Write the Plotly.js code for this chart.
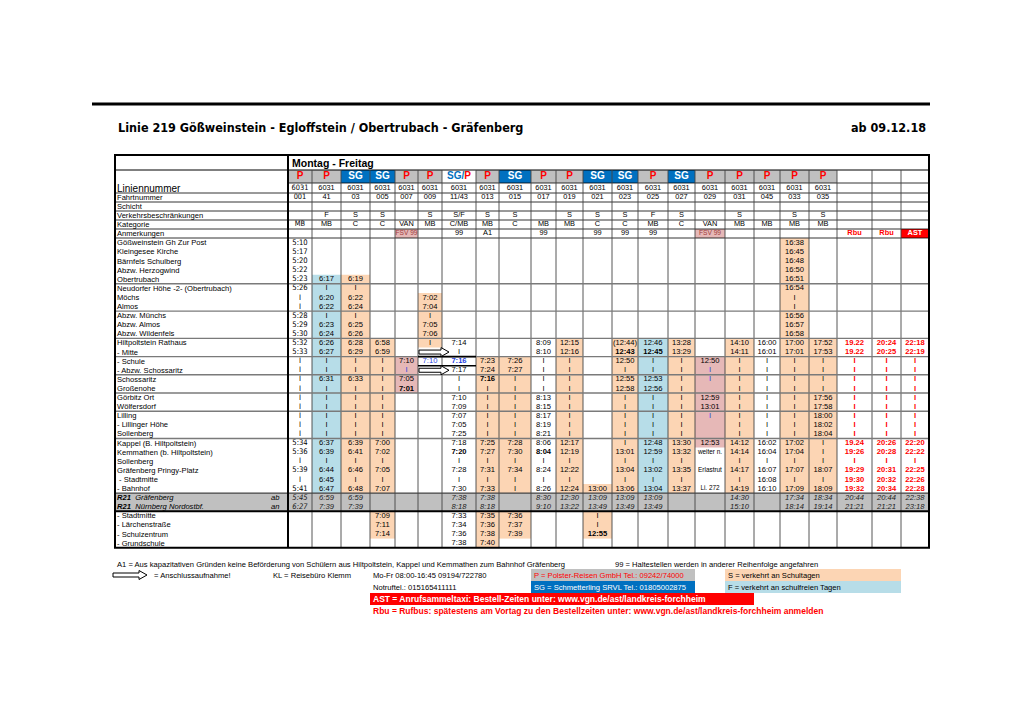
<!DOCTYPE html>
<html><head><meta charset="utf-8">
<script src="https://cdn.plot.ly/plotly-3.0.1.min.js"></script>
<style>html,body{margin:0;padding:0;background:#fff}</style>
</head><body><div id="chart" style="width:1020px;height:721px"></div>
<script>
// ================= DATA =================
const titleText = 'Linie 219 Gößweinstein - Egloffstein / Obertrubach - Gräfenberg';
const validFrom = 'ab 09.12.18';
const dayType = 'Montag - Freitag';
const rowLabels = ['Liniennummer','Fahrtnummer','Schicht','Verkehrsbeschränkungen','Kategorie','Anmerkungen'];
const stops = ['Gößweinstein Gh Zur Post','Kleingesee Kirche','Bärnfels Schulberg','Abzw. Herzogwind','Obertrubach',
 'Neudorfer Höhe -2- (Obertrubach)','Möchs','Almos','Abzw. Münchs','Abzw. Almos','Abzw. Wildenfels',
 'Hiltpoltstein Rathaus','- Mitte','- Schule','- Abzw. Schossaritz','Schossaritz','Großenohe','Görbitz Ort',
 'Wölfersdorf','Lilling','- Lillinger Höhe','Sollenberg','Kappel (B. Hiltpoltstein)','Kemmathen (b. Hiltpoltstein)',
 'Sollenberg','Gräfenberg Pringy-Platz','\u00a0- Stadtmitte','- Bahnhof','R21|Gräfenberg|ab','R21|Nürnberg Nordostbf.|an',
 '- Stadtmitte','- Lärchenstraße','- Schulzentrum','- Grundschule'];
const operators = ['P','P','SG','SG','P','P','SG/P','P','SG','P','P','SG','SG','P','SG','P','P','P','P','P','','',''];
const linien = ['6031','6031','6031','6031','6031','6031','6031','6031','6031','6031','6031','6031','6031','6031','6031','6031','6031','6031','6031','6031','','',''];
const fahrten = ['001','41','03','005','007','009','11/43','013','015','017','019','021','023','025','027','029','031','045','033','035','','',''];
const verkehr = ['','F','S','S','','S','S/F','S','S','','S','S','S','F','S','','S','','S','S','','',''];
const kategorie = ['MB','MB','C','C','VAN','MB','C/MB','MB','C','MB','MB','C','C','MB','C','VAN','MB','MB','MB','MB','','',''];
const anmerkungen = ['','','','','FSV 99','','99','A1','','99','','99','99','99','','FSV 99','','','','','Rbu','Rbu','AST'];

// departure times per trip, one entry per stop row (34 rows); '|' = passes through
const t001 = '5:10,5:17,5:20,5:22,5:23,5:26,|,|,5:28,5:29,5:30,5:32,5:33,|,|,|,|,|,|,|,|,|,5:34,5:36,|,5:39,|,5:41,5:45,6:27,,,,';
const t41  = ',,,,6:17,|,6:20,6:22,|,6:23,6:24,6:26,6:27,|,|,6:31,|,|,|,|,|,|,6:37,6:39,|,6:44,6:45,6:47,6:59,7:39,,,,';
const t03  = ',,,,6:19,|,6:22,6:24,|,6:25,6:26,6:28,6:29,|,|,6:33,|,|,|,|,|,|,6:39,6:41,|,6:46,|,6:48,6:59,7:39,,,,';
const t005 = ',,,,,,,,,,,6:58,6:59,|,|,|,|,|,|,|,|,|,7:00,7:02,|,7:05,|,7:07,,,7:09,7:11,7:14,';
const t007 = ',,,,,,,,,,,,,7:10,|,7:05,7:01,,,,,,,,,,,,,,,,,';
const t009 = ',,,,,,7:02,7:04,|,7:05,7:06,|,,7:10,,,,,,,,,,,,,,,,,,,,';
const t1143= ',,,,,,,,,,,7:14,|,7:16,7:17,|,|,7:10,7:09,7:07,7:05,7:25,7:18,7:20,|,7:28,|,7:30,7:38,8:18,7:33,7:34,7:36,7:38';
const t013 = ',,,,,,,,,,,,,7:23,7:24,7:16,|,|,|,|,|,|,7:25,7:27,|,7:31,|,7:33,7:38,8:18,7:35,7:36,7:38,7:40';
const t015 = ',,,,,,,,,,,,,7:26,7:27,|,|,|,|,|,|,|,7:28,7:30,|,7:34,|,|,,,7:36,7:37,7:39,';
const t017 = ',,,,,,,,,,,8:09,8:10,|,|,|,|,8:13,8:15,8:17,8:19,8:21,8:06,8:04,|,8:24,|,8:26,8:30,9:10,,,,';
const t019 = ',,,,,,,,,,,12:15,12:16,|,|,|,|,|,|,|,|,|,12:17,12:19,|,12:22,|,12:24,12:30,13:22,,,,';
const t021 = ',,,,,,,,,,,,,,,,,,,,,,,,,,,13:00,13:09,13:49,|,|,12:55,';
const t023 = ',,,,,,,,,,,(12:44),12:43,12:50,|,12:55,12:58,|,|,|,|,|,|,13:01,|,13:04,|,13:06,13:09,13:49,,,,';
const t025 = ',,,,,,,,,,,12:46,12:45,|,|,12:53,12:56,|,|,|,|,|,12:48,12:59,|,13:02,|,13:04,13:09,13:49,,,,';
const t027 = ',,,,,,,,,,,13:28,13:29,|,|,|,|,|,|,|,|,|,13:30,13:32,|,13:35,|,13:37,,,,,,';
const t029 = ',,,,,,,,,,,,,12:50,|,|,,12:59,13:01,|,,,12:53,weiter n.,,Erlastrut,,Li. 272,,,,,,';
const t031 = ',,,,,,,,,,,14:10,14:11,|,|,|,|,|,|,|,|,|,14:12,14:14,|,14:17,|,14:19,14:30,15:10,,,,';
const t045 = ',,,,,,,,,,,16:00,16:01,|,|,|,|,|,|,|,|,|,16:02,16:04,|,16:07,16:08,16:10,,,,,,';
const t033 = '16:38,16:45,16:48,16:50,16:51,16:54,|,|,16:56,16:57,16:58,17:00,17:01,|,|,|,|,|,|,|,|,|,17:02,17:04,|,17:07,|,17:09,17:34,18:14,,,,';
const t035 = ',,,,,,,,,,,17:52,17:53,|,|,|,|,17:56,17:58,18:00,18:02,18:04,|,|,|,18:07,|,18:09,18:34,19:14,,,,';
const tRbu1= ',,,,,,,,,,,19.22,19.22,|,|,|,|,|,|,|,|,|,19.24,19:26,|,19:29,19:30,19:32,20:44,21:21,,,,';
const tRbu2= ',,,,,,,,,,,20:24,20:25,|,|,|,|,|,|,|,|,|,20:26,20:28,|,20:31,20:32,20:34,20:44,21:21,,,,';
const tAst = ',,,,,,,,,,,22:18,22:19,|,|,|,|,|,|,|,|,|,22:20,22:22,|,22:25,22:26,22:28,22:38,23:18,,,,';

const footA1 = 'A1 = Aus kapazitativen Gründen keine Beförderung von Schülern aus Hiltpoltstein, Kappel und Kemmathen zum Bahnhof Gräfenberg';
const foot99 = '99 = Haltestellen werden in anderer Reihenfolge angefahren';
const footArrow = '= Anschlussaufnahme!';
const footKL = 'KL = Reisebüro Klemm';
const footHours = 'Mo-Fr 08:00-16:45 09194/722780';
const footNot = 'Notruftel.: 015165411111';
const footP = 'P = Polster-Reisen GmbH Tel.: 09242/74000';
const footSG = 'SG = Schmetterling SRVL Tel.: 01805002875';
const footS = 'S = verkehrt an Schultagen';
const footF = 'F = verkehrt an schulfreien Tagen';
const footAST = 'AST = Anrufsammeltaxi: Bestell-Zeiten unter: www.vgn.de/ast/landkreis-forchheim';
const footRbu = 'Rbu = Rufbus: spätestens am Vortag zu den Bestellzeiten unter: www.vgn.de/ast/landkreis-forchheim anmelden';

// ================= STYLE / LAYOUT =================
const ORANGE='#fcd5b4', LBLUE='#b7dde8', PINK='#e6b8b7', GRAY='#c0c0c0', BLUE='#0070c0', RED='#ff0000';
const FONT='"Liberation Sans", Arial, Helvetica, sans-serif';
const NARROW='"Liberation Sans Narrow", "Arial Narrow", "DejaVu Sans Condensed", sans-serif';
const colEdges=[288,312,341,370,395,418,442,476,499,531,556,583,612,638,668,695,725,754,780,809,837,872,901,929];
const tableL=115, tableR=929, tableT=155;
const hdrY=[155,170,183,193,202,211,220,229,238];
const rowTop0=238.3, rowH=9.1, nRows=34;
const PASS_GLYPH='I';
// fills: column index, first and last row (1-based, inclusive)
const fills=[[1,5,28,LBLUE],[2,5,28,ORANGE],[3,12,28,ORANGE],[3,31,33,ORANGE],[4,14,17,PINK],[5,7,12,ORANGE],
 [7,14,28,ORANGE],[7,31,34,ORANGE],[8,14,28,ORANGE],[8,31,33,ORANGE],[10,12,28,ORANGE],[11,28,28,ORANGE],[11,31,33,ORANGE],
 [12,12,28,ORANGE],[13,12,28,LBLUE],[14,12,28,ORANGE],[15,14,23,PINK],[16,12,28,ORANGE],[18,1,28,ORANGE],[19,12,28,ORANGE]];
const boldCells=[[4,17],[6,14],[6,24],[7,16],[9,24],[11,33],[12,13],[13,13]];
const blueCells=[[5,14],[6,14],[4,15],[15,15],[15,16],[15,20]];
const smallCells=[[15,24],[15,26],[15,28]];
const groupTops=[6,9,12,14,16,18,20,23];

const cols=[t001,t41,t03,t005,t007,t009,t1143,t013,t015,t017,t019,t021,t023,t025,t027,t029,t031,t045,t033,t035,tRbu1,tRbu2,tAst].map(s=>s.split(','));

const cx=c=>(colEdges[c]+colEdges[c+1])/2;
const rTop=r=>rowTop0+(r-1)*rowH;      // r 1-based
const rMid=r=>rTop(r)+rowH/2;
const has=(list,c,r)=>list.some(p=>p[0]===c&&p[1]===r);

const shapes=[], annotations=[];
function rect(x0,y0,x1,y1,fill,layer){shapes.push({type:'rect',xref:'x',yref:'y',x0,y0,x1,y1,fillcolor:fill,line:{width:0},layer:layer||'below'});}
function seg(x0,y0,x1,y1,color,width){shapes.push({type:'line',xref:'x',yref:'y',x0,y0,x1,y1,line:{color,width},layer:'above'});}
function arrow(xa,xb,yc){
  const p=`M${xa},${yc-2} L${xb-8},${yc-2} L${xb-8},${yc-4.5} L${xb},${yc} L${xb-8},${yc+4.5} L${xb-8},${yc+2} L${xa},${yc+2} Z`;
  shapes.push({type:'path',xref:'x',yref:'y',path:p,fillcolor:'#fff',line:{color:'#000',width:1},layer:'above'});
}
function ann(x,y,text,o){o=o||{};
  annotations.push({xref:'x',yref:'y',x,y,text,showarrow:false,xanchor:o.xanchor||'left',yanchor:'middle',borderpad:0,
    font:{family:o.family||FONT,size:o.size||7.6,color:o.color||'#000'}});}

// --- fills ---
fills.forEach(([c,r0,r1,col])=>rect(colEdges[c],rTop(r0),colEdges[c+1],rTop(r1)+rowH,col));
rect(tableL,rTop(29),tableR,rTop(31),GRAY);
operators.forEach((op,c)=>{
  if(op==='P') rect(colEdges[c],hdrY[1],colEdges[c+1],hdrY[2],GRAY);
  else if(op==='SG') rect(colEdges[c],hdrY[1],colEdges[c+1],hdrY[2],BLUE);
});
anmerkungen.forEach((a,c)=>{
  if(a==='FSV 99') rect(colEdges[c],hdrY[7],colEdges[c+1],hdrY[8],PINK);
  if(a==='AST') rect(colEdges[c],hdrY[7],colEdges[c+1],hdrY[8],RED);
});

// --- lines ---
seg(92,104,930,104,'#000',3);
seg(tableL,hdrY[1],tableR,hdrY[1],'#000',1);
seg(colEdges[0],hdrY[2],tableR,hdrY[2],'#000',0.8);
for(let i=3;i<hdrY.length;i++) seg(tableL,hdrY[i],tableR,hdrY[i],'#000',0.8);
for(let i=1;i<colEdges.length-1;i++) seg(colEdges[i],hdrY[1],colEdges[i],rTop(nRows+1),'#444',0.9);
groupTops.forEach(r=>seg(tableL,rTop(r),tableR,rTop(r),'#7a7a7a',1.4));
seg(tableL,rTop(29),tableR,rTop(29),'#444',1.4);
seg(tableL,rTop(31),tableR,rTop(31),'#000',2);
seg(colEdges[5],rTop(14),colEdges[7],rTop(14),'#000',1.6);
seg(colEdges[5],rTop(15),colEdges[7],rTop(15),'#000',1.6);
seg(colEdges[0],tableT,colEdges[0],rTop(nRows+1),'#000',2);
shapes.push({type:'rect',xref:'x',yref:'y',x0:tableL,y0:tableT,x1:tableR,y1:rTop(nRows+1),line:{color:'#000',width:2},fillcolor:'rgba(0,0,0,0)',layer:'above'});
arrow(colEdges[5]+1,colEdges[6]+7,rMid(13));
arrow(colEdges[5]+1,colEdges[6]+7,rMid(15));
arrow(113,147,575);

// --- cell texts (scatter text trace) ---
const X=[],Y=[],T=[],C=[],S=[],F=[];
function cell(x,y,t,color,size,family){X.push(x);Y.push(y);T.push(t);C.push(color);S.push(size);F.push(family);}
const hdrMid=i=>(hdrY[i]+hdrY[i+1])/2;
operators.forEach((op,c)=>{
  if(!op) return;
  let t = op==='P' ? '<b>P</b>' : op==='SG' ? '<b>SG</b>' : '<b><span style="color:#0070c0">SG/</span>P</b>';
  cell(cx(c),hdrMid(1)+0.3,t, op==='SG'?'#fff':RED, 10, FONT);
});
[linien,fahrten,null,verkehr,kategorie].forEach((arr,k)=>{
  if(!arr) return;
  arr.forEach((v,c)=>{ if(v) cell(cx(c),hdrMid(k+2),v,'#000',7.4,c===0?NARROW:FONT); });
});
anmerkungen.forEach((v,c)=>{
  if(!v) return;
  if(v==='FSV 99') cell(cx(c),hdrMid(7),v,'#a03c3c',6.6,FONT);
  else if(v==='Rbu') cell(cx(c),hdrMid(7),'<b>Rbu</b>',RED,7.4,FONT);
  else if(v==='AST') cell(cx(c),hdrMid(7),'<b>AST</b>','#fff',7.4,FONT);
  else cell(cx(c),hdrMid(7),v,'#000',7.4,FONT);
});
cols.forEach((arr,c)=>{
  arr.forEach((v,i)=>{
    const r=i+1; if(!v) return;
    let t=(v==='|'?PASS_GLYPH:v), col='#000', size=7.6, fam=(c===0?NARROW:FONT);
    if(c>=20 && r<=28){col=RED; t='<b>'+t+'</b>';}
    if(has(boldCells,c,r)) t='<b>'+t+'</b>';
    if(has(blueCells,c,r)) col='#1f3fdf';
    if(has(smallCells,c,r)) size=6.4;
    if(r===29||r===30){t='<i>'+t+'</i>'; col='#222';}
    cell(cx(c),rMid(r)+0.2,t,col,size,fam);
  });
});

// --- labels ---
ann(291,hdrMid(0),'<b>'+dayType+'</b>',{size:10.5});
ann(116,188.3,rowLabels[0],{size:10});
rowLabels.slice(1).forEach((l,k)=>ann(116,hdrMid(k+3),l));
stops.forEach((s,i)=>{
  const r=i+1;
  if(s.indexOf('|')>=0){
    const [a,b,d]=s.split('|');
    ann(116,rMid(r),'<b><i>'+a+'</i></b>  <i>'+b+'</i>');
    ann(280,rMid(r),'<i>'+d+'</i>',{xanchor:'right'});
  } else ann(116,rMid(r),s);
});
// title
ann(117,127,'<b>'+titleText+'</b>',{size:12.5,family:NARROW});
ann(927,127,'<b>'+validFrom+'</b>',{size:12.5,family:NARROW,xanchor:'right'});
// footer
rect(531,569,695,581,GRAY); rect(531,581,695,593,BLUE);
rect(725,569,901,581,ORANGE); rect(725,581,901,593,LBLUE);
rect(370,593,754,605,RED);
ann(116,564,footA1,{size:7.6});
ann(614,564,foot99,{size:7.6});
ann(153,575,footArrow,{size:7.6});
ann(272,575,footKL,{size:7.6});
ann(372,575,footHours,{size:7.6});
ann(533,575,footP,{size:7.6,color:RED});
ann(727,575,footS,{size:7.6});
ann(372,587,footNot,{size:7.6});
ann(533,587,footSG,{size:7.6,color:'#fff'});
ann(727,587,footF,{size:7.6});
ann(372,599,'<b>'+footAST+'</b>',{size:8.5,color:'#fff'});
ann(372,611,'<b>'+footRbu+'</b>',{size:8.5,color:RED});

const bad=cols.map((a,i)=>a.length!==nRows?i:-1).filter(i=>i>=0);
if(bad.length) ann(10,10,'ROWCOUNT '+bad.join(','),{color:'red',size:12});

const trace={type:'scatter',mode:'text',x:X,y:Y,text:T,textposition:'middle center',
  textfont:{color:C,size:S,family:F},hoverinfo:'skip',cliponaxis:false,showlegend:false};
const layout={width:1020,height:721,margin:{l:0,r:0,t:0,b:0},paper_bgcolor:'#fff',plot_bgcolor:'#fff',
  xaxis:{range:[0,1020],visible:false,fixedrange:true},yaxis:{range:[721,0],visible:false,fixedrange:true},
  shapes,annotations,showlegend:false};
Plotly.newPlot('chart',[trace],layout,{staticPlot:true,displayModeBar:false});
</script></body></html>
